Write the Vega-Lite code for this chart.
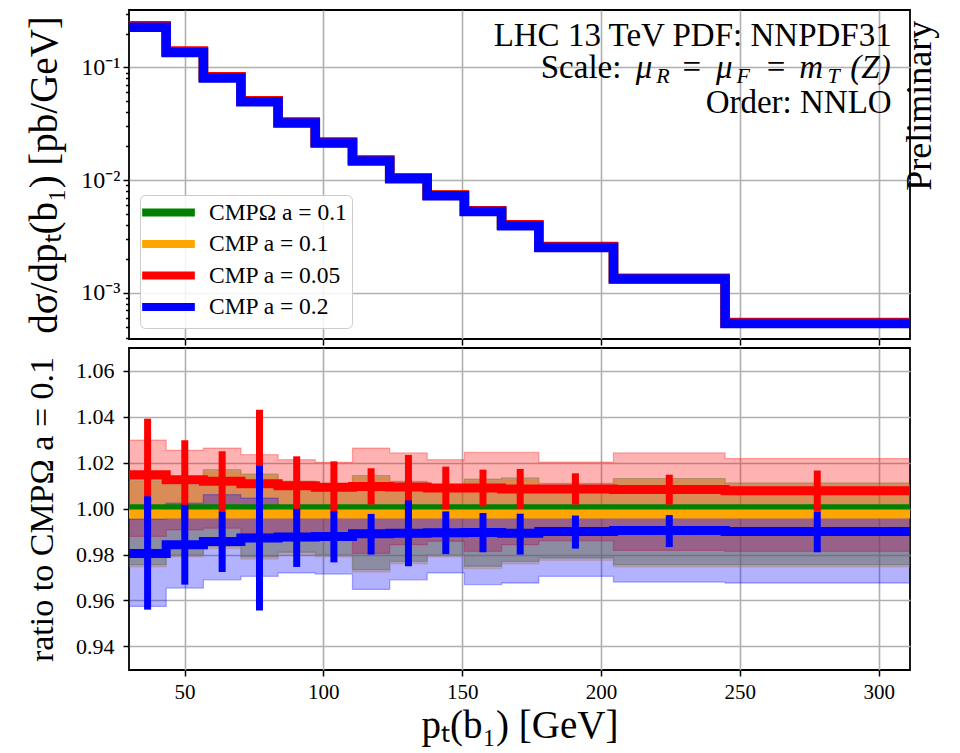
{
  "$schema": "https://vega.github.io/schema/vega-lite/v6.json",
  "background": "white",
  "padding": {"left": 24, "top": 9, "right": 5, "bottom": 5},
  "bounds": "flush",
  "spacing": 9,
  "resolve": {"scale": {"color": "independent"}, "legend": {"color": "independent"}},
  "datasets": {
    "main": [
      {"s": "CMPΩ a = 0.1", "x": 30, "y": 0.2315, "r": 1.0, "hi": 1.0128, "lo": 0.9756},
      {"s": "CMPΩ a = 0.1", "x": 43.4, "y": 0.1382, "r": 1.0, "hi": 1.011, "lo": 0.98},
      {"s": "CMPΩ a = 0.1", "x": 56.8, "y": 0.08167, "r": 1.0, "hi": 1.017, "lo": 0.9836},
      {"s": "CMPΩ a = 0.1", "x": 70.3, "y": 0.05014, "r": 1.0, "hi": 1.015, "lo": 0.979},
      {"s": "CMPΩ a = 0.1", "x": 83.7, "y": 0.0325, "r": 1.0, "hi": 1.012, "lo": 0.981},
      {"s": "CMPΩ a = 0.1", "x": 97.1, "y": 0.02156, "r": 1.0, "hi": 1.01, "lo": 0.98},
      {"s": "CMPΩ a = 0.1", "x": 110.5, "y": 0.01496, "r": 1.0, "hi": 1.0144, "lo": 0.9734},
      {"s": "CMPΩ a = 0.1", "x": 123.9, "y": 0.01041, "r": 1.0, "hi": 1.0119, "lo": 0.977},
      {"s": "CMPΩ a = 0.1", "x": 137.4, "y": 0.007317, "r": 1.0, "hi": 1.0085, "lo": 0.98},
      {"s": "CMPΩ a = 0.1", "x": 150.8, "y": 0.005305, "r": 1.0, "hi": 1.0129, "lo": 0.9749},
      {"s": "CMPΩ a = 0.1", "x": 164.2, "y": 0.003973, "r": 1.0, "hi": 1.0134, "lo": 0.977},
      {"s": "CMPΩ a = 0.1", "x": 177.6, "y": 0.002545, "r": 1.0, "hi": 1.011, "lo": 0.9785},
      {"s": "CMPΩ a = 0.1", "x": 204.5, "y": 0.001333, "r": 1.0, "hi": 1.0131, "lo": 0.9756},
      {"s": "CMPΩ a = 0.1", "x": 244.7, "y": 0.0005393, "r": 1.0, "hi": 1.0112, "lo": 0.9756},
      {"s": "CMPΩ a = 0.1", "x": 311.8, "y": 0.0005393, "r": 1.0, "hi": 1.0112, "lo": 0.9756},

      {"s": "CMP a = 0.1", "x": 30, "y": 0.231, "r": 0.9977, "hi": 1.0118, "lo": 0.9746},
      {"s": "CMP a = 0.1", "x": 43.4, "y": 0.1379, "r": 0.9977, "hi": 1.01, "lo": 0.979},
      {"s": "CMP a = 0.1", "x": 56.8, "y": 0.08148, "r": 0.9977, "hi": 1.016, "lo": 0.9826},
      {"s": "CMP a = 0.1", "x": 70.3, "y": 0.05002, "r": 0.9977, "hi": 1.014, "lo": 0.978},
      {"s": "CMP a = 0.1", "x": 83.7, "y": 0.03243, "r": 0.9977, "hi": 1.011, "lo": 0.98},
      {"s": "CMP a = 0.1", "x": 97.1, "y": 0.02151, "r": 0.9977, "hi": 1.009, "lo": 0.979},
      {"s": "CMP a = 0.1", "x": 110.5, "y": 0.01493, "r": 0.9977, "hi": 1.0134, "lo": 0.9724},
      {"s": "CMP a = 0.1", "x": 123.9, "y": 0.01039, "r": 0.9977, "hi": 1.0109, "lo": 0.976},
      {"s": "CMP a = 0.1", "x": 137.4, "y": 0.0073, "r": 0.9977, "hi": 1.0075, "lo": 0.979},
      {"s": "CMP a = 0.1", "x": 150.8, "y": 0.005293, "r": 0.9977, "hi": 1.0119, "lo": 0.9739},
      {"s": "CMP a = 0.1", "x": 164.2, "y": 0.003964, "r": 0.9977, "hi": 1.0124, "lo": 0.976},
      {"s": "CMP a = 0.1", "x": 177.6, "y": 0.002539, "r": 0.9977, "hi": 1.01, "lo": 0.9775},
      {"s": "CMP a = 0.1", "x": 204.5, "y": 0.00133, "r": 0.9977, "hi": 1.0121, "lo": 0.9746},
      {"s": "CMP a = 0.1", "x": 244.7, "y": 0.000538, "r": 0.9977, "hi": 1.0102, "lo": 0.9746},
      {"s": "CMP a = 0.1", "x": 311.8, "y": 0.000538, "r": 0.9977, "hi": 1.0102, "lo": 0.9746},

      {"s": "CMP a = 0.05", "x": 30, "y": 0.2349, "r": 1.0148, "hi": 1.0298, "lo": 0.9879},
      {"s": "CMP a = 0.05", "x": 43.4, "y": 0.1399, "r": 1.0126, "hi": 1.0254, "lo": 0.9908},
      {"s": "CMP a = 0.05", "x": 56.8, "y": 0.08264, "r": 1.0119, "hi": 1.0264, "lo": 0.9915},
      {"s": "CMP a = 0.05", "x": 70.3, "y": 0.05069, "r": 1.0109, "hi": 1.0235, "lo": 0.989},
      {"s": "CMP a = 0.05", "x": 83.7, "y": 0.03283, "r": 1.01, "hi": 1.0213, "lo": 0.986},
      {"s": "CMP a = 0.05", "x": 97.1, "y": 0.02176, "r": 1.0093, "hi": 1.0202, "lo": 0.9865},
      {"s": "CMP a = 0.05", "x": 110.5, "y": 0.01511, "r": 1.0097, "hi": 1.0264, "lo": 0.9805},
      {"s": "CMP a = 0.05", "x": 123.9, "y": 0.01051, "r": 1.0094, "hi": 1.0243, "lo": 0.9843},
      {"s": "CMP a = 0.05", "x": 137.4, "y": 0.007383, "r": 1.009, "hi": 1.0213, "lo": 0.9858},
      {"s": "CMP a = 0.05", "x": 150.8, "y": 0.005353, "r": 1.009, "hi": 1.0245, "lo": 0.9814},
      {"s": "CMP a = 0.05", "x": 164.2, "y": 0.004007, "r": 1.0086, "hi": 1.0245, "lo": 0.9843},
      {"s": "CMP a = 0.05", "x": 177.6, "y": 0.002567, "r": 1.0086, "hi": 1.0203, "lo": 0.986},
      {"s": "CMP a = 0.05", "x": 204.5, "y": 0.001344, "r": 1.0083, "hi": 1.0243, "lo": 0.9818},
      {"s": "CMP a = 0.05", "x": 244.7, "y": 0.0005435, "r": 1.0078, "hi": 1.0218, "lo": 0.9814},
      {"s": "CMP a = 0.05", "x": 311.8, "y": 0.0005435, "r": 1.0078, "hi": 1.0218, "lo": 0.9814},

      {"s": "CMP a = 0.2", "x": 30, "y": 0.227, "r": 0.9805, "hi": 0.9955, "lo": 0.9574},
      {"s": "CMP a = 0.2", "x": 43.4, "y": 0.136, "r": 0.9843, "hi": 1.0024, "lo": 0.9654},
      {"s": "CMP a = 0.2", "x": 56.8, "y": 0.0805, "r": 0.9857, "hi": 1.0061, "lo": 0.969},
      {"s": "CMP a = 0.2", "x": 70.3, "y": 0.0495, "r": 0.9872, "hi": 1.0046, "lo": 0.9705},
      {"s": "CMP a = 0.2", "x": 83.7, "y": 0.0321, "r": 0.9877, "hi": 0.9995, "lo": 0.972},
      {"s": "CMP a = 0.2", "x": 97.1, "y": 0.0213, "r": 0.9879, "hi": 0.999, "lo": 0.9715},
      {"s": "CMP a = 0.2", "x": 110.5, "y": 0.0148, "r": 0.9891, "hi": 0.9995, "lo": 0.9648},
      {"s": "CMP a = 0.2", "x": 123.9, "y": 0.0103, "r": 0.9893, "hi": 0.999, "lo": 0.969},
      {"s": "CMP a = 0.2", "x": 137.4, "y": 0.00724, "r": 0.9895, "hi": 0.999, "lo": 0.972},
      {"s": "CMP a = 0.2", "x": 150.8, "y": 0.00525, "r": 0.9896, "hi": 0.999, "lo": 0.9669},
      {"s": "CMP a = 0.2", "x": 164.2, "y": 0.00393, "r": 0.9893, "hi": 0.999, "lo": 0.9676},
      {"s": "CMP a = 0.2", "x": 177.6, "y": 0.00252, "r": 0.99, "hi": 0.9995, "lo": 0.9705},
      {"s": "CMP a = 0.2", "x": 204.5, "y": 0.00132, "r": 0.9905, "hi": 0.9995, "lo": 0.968},
      {"s": "CMP a = 0.2", "x": 244.7, "y": 0.000534, "r": 0.9901, "hi": 0.9995, "lo": 0.9676},
      {"s": "CMP a = 0.2", "x": 311.8, "y": 0.000534, "r": 0.9901, "hi": 0.9995, "lo": 0.9676}
    ],
    "err": [
      {"s": "CMP a = 0.05", "x": 36.7, "lo": 0.9904, "hi": 1.0392},
      {"s": "CMP a = 0.05", "x": 50.1, "lo": 0.9954, "hi": 1.0298},
      {"s": "CMP a = 0.05", "x": 63.55, "lo": 0.9988, "hi": 1.025},
      {"s": "CMP a = 0.05", "x": 77, "lo": 0.9787, "hi": 1.0431},
      {"s": "CMP a = 0.05", "x": 90.4, "lo": 0.9972, "hi": 1.0228},
      {"s": "CMP a = 0.05", "x": 103.8, "lo": 0.998, "hi": 1.0206},
      {"s": "CMP a = 0.05", "x": 117.2, "lo": 1.0018, "hi": 1.0176},
      {"s": "CMP a = 0.05", "x": 130.65, "lo": 0.9954, "hi": 1.0234},
      {"s": "CMP a = 0.05", "x": 144.1, "lo": 0.9997, "hi": 1.0183},
      {"s": "CMP a = 0.05", "x": 157.5, "lo": 1.001, "hi": 1.017},
      {"s": "CMP a = 0.05", "x": 170.9, "lo": 0.9999, "hi": 1.0173},
      {"s": "CMP a = 0.05", "x": 190.8, "lo": 1.0018, "hi": 1.0154},
      {"s": "CMP a = 0.05", "x": 224.6, "lo": 1.0018, "hi": 1.0148},
      {"s": "CMP a = 0.05", "x": 277.9, "lo": 0.999, "hi": 1.0166},
      {"s": "CMP a = 0.2", "x": 36.7, "lo": 0.956, "hi": 1.0054},
      {"s": "CMP a = 0.2", "x": 50.1, "lo": 0.9669, "hi": 1.0017},
      {"s": "CMP a = 0.2", "x": 63.55, "lo": 0.9724, "hi": 0.9988},
      {"s": "CMP a = 0.2", "x": 77, "lo": 0.9556, "hi": 1.0187},
      {"s": "CMP a = 0.2", "x": 90.4, "lo": 0.9746, "hi": 0.9999},
      {"s": "CMP a = 0.2", "x": 103.8, "lo": 0.9766, "hi": 0.9988},
      {"s": "CMP a = 0.2", "x": 117.2, "lo": 0.98, "hi": 0.9977},
      {"s": "CMP a = 0.2", "x": 130.65, "lo": 0.9749, "hi": 1.0036},
      {"s": "CMP a = 0.2", "x": 144.1, "lo": 0.9802, "hi": 0.9988},
      {"s": "CMP a = 0.2", "x": 157.5, "lo": 0.981, "hi": 0.9981},
      {"s": "CMP a = 0.2", "x": 170.9, "lo": 0.98, "hi": 0.9978},
      {"s": "CMP a = 0.2", "x": 190.8, "lo": 0.9826, "hi": 0.997},
      {"s": "CMP a = 0.2", "x": 224.6, "lo": 0.9833, "hi": 0.9972},
      {"s": "CMP a = 0.2", "x": 277.9, "lo": 0.981, "hi": 0.9988}
    ],
    "annR": [
      {"x": 304.7, "y": 0.156, "t": "LHC 13 TeV PDF: NNPDF31"},
      {"x": 304.7, "y": 0.0398, "t": "Order: NNLO"}
    ],
    "annU": [
      {"x": 178.3, "y": 0.081, "t": "Scale:"},
      {"x": 229.4, "y": 0.081, "t": "="},
      {"x": 259.7, "y": 0.081, "t": "="}
    ],
    "annI": [
      {"x": 212.5, "y": 0.081, "t": "μ"},
      {"x": 241.4, "y": 0.081, "t": "μ"},
      {"x": 271.4, "y": 0.081, "t": "m"},
      {"x": 289.8, "y": 0.081, "t": "(Z)"}
    ],
    "annS": [
      {"x": 219.9, "y": 0.0731, "t": "R"},
      {"x": 248.8, "y": 0.0731, "t": "F"},
      {"x": 281.6, "y": 0.0731, "t": "T"}
    ],
    "annP": [
      {"x": 318.9, "y": 0.0457, "t": "Preliminary"}
    ]
  },
  "vconcat": [
    {
      "width": 781,
      "height": 329,
      "encoding": {
        "x": {"field": "x", "type": "quantitative",
              "scale": {"domain": [30, 311.3], "nice": false, "zero": false},
              "axis": {"values": [50, 100, 150, 200, 250, 300], "labels": false, "title": null}},
        "y": {"field": "y", "type": "quantitative",
              "scale": {"type": "log", "domain": [0.000388, 0.3237], "nice": false},
              "axis": {
                "values": [0.0004, 0.0005, 0.0006, 0.0007, 0.0008, 0.0009, 0.001, 0.002, 0.003, 0.004, 0.005, 0.006, 0.007, 0.008, 0.009, 0.01, 0.02, 0.03, 0.04, 0.05, 0.06, 0.07, 0.08, 0.09, 0.1, 0.2, 0.3],
                "labelExpr": "abs(datum.value - 0.1) < 1e-6 ? '10⁻¹' : abs(datum.value - 0.01) < 1e-7 ? '10⁻²' : abs(datum.value - 0.001) < 1e-8 ? '10⁻³' : ''",
                "tickSize": {"condition": {"test": "abs(log(datum.value)/log(10) - round(log(datum.value)/log(10))) < 0.001", "value": 6}, "value": 3.5},
                "gridOpacity": {"condition": {"test": "abs(log(datum.value)/log(10) - round(log(datum.value)/log(10))) < 0.001", "value": 1}, "value": 0},
                "labelFontSize": 24,
                "labelPadding": 3,
                "title": "dσ/dpₜ(b₁) [pb/GeV]",
                "titleFontSize": 39,
                "titlePadding": 16
              }}
      },
      "layer": [
        {
          "data": {"name": "main"},
          "mark": {"type": "line", "interpolate": "step-after", "strokeWidth": 9.5, "clip": true},
          "encoding": {
            "color": {"field": "s", "type": "nominal",
                      "scale": {"domain": ["CMPΩ a = 0.1", "CMP a = 0.1", "CMP a = 0.05", "CMP a = 0.2"], "range": ["#008000", "#ffa500", "#ff0000", "#0000ff"]},
                      "legend": {"orient": "bottom-left", "offset": 11, "title": null,
                                 "symbolType": "M-3.1,0H3.1", "symbolSize": 289, "symbolStrokeWidth": 8,
                                 "symbolOffset": 11, "labelOffset": 28, "labelFontSize": 23.5, "labelFont": "Liberation Serif",
                                 "labelColor": "black", "labelLimit": 300, "rowPadding": -1.5, "padding": 5,
                                 "fillColor": "rgba(255,255,255,0.85)", "strokeColor": "#cccccc", "cornerRadius": 5}}
          }
        },
        {
          "data": {"name": "annR"},
          "mark": {"type": "text", "align": "right", "baseline": "alphabetic", "fontSize": 33, "font": "Liberation Serif"},
          "encoding": {"text": {"field": "t"}}
        },
        {
          "data": {"name": "annU"},
          "mark": {"type": "text", "align": "left", "baseline": "alphabetic", "fontSize": 33, "font": "Liberation Serif"},
          "encoding": {"text": {"field": "t"}}
        },
        {
          "data": {"name": "annI"},
          "mark": {"type": "text", "align": "left", "baseline": "alphabetic", "fontSize": 33, "fontStyle": "italic", "font": "Liberation Serif"},
          "encoding": {"text": {"field": "t"}}
        },
        {
          "data": {"name": "annS"},
          "mark": {"type": "text", "align": "left", "baseline": "alphabetic", "fontSize": 22, "fontStyle": "italic", "font": "Liberation Serif"},
          "encoding": {"text": {"field": "t"}}
        },
        {
          "data": {"name": "annP"},
          "mark": {"type": "text", "align": "center", "baseline": "alphabetic", "fontSize": 36, "angle": 270, "clip": false, "font": "Liberation Serif"},
          "encoding": {"text": {"field": "t"}}
        }
      ]
    },
    {
      "width": 781,
      "height": 322,
      "encoding": {
        "x": {"field": "x", "type": "quantitative",
              "scale": {"domain": [30, 311.3], "nice": false, "zero": false},
              "axis": {"values": [50, 100, 150, 200, 250, 300], "format": "d", "title": "pₜ(b₁) [GeV]", "labelFontSize": 21, "titleFontSize": 39, "titlePadding": 4, "labelPadding": 5}}
      },
      "layer": [
        {
          "data": {"name": "main"},
          "mark": {"type": "area", "interpolate": "step-after", "fillOpacity": 0.3, "strokeOpacity": 0.3, "strokeWidth": 1.3, "clip": true},
          "encoding": {
            "y": {"field": "hi", "type": "quantitative", "stack": null,
                  "scale": {"domain": [0.9297, 1.07], "nice": false, "zero": false},
                  "axis": {"values": [0.94, 0.96, 0.98, 1.0, 1.02, 1.04, 1.06], "format": ".2f", "labelPadding": 9, "title": "ratio to CMPΩ a = 0.1", "titleFontSize": 34, "titlePadding": 16}},
            "y2": {"field": "lo"},
            "color": {"field": "s", "type": "nominal",
                      "scale": {"domain": ["CMPΩ a = 0.1", "CMP a = 0.1", "CMP a = 0.05", "CMP a = 0.2"], "range": ["#008000", "#ffa500", "#ff0000", "#0000ff"]},
                      "legend": null},
            "stroke": {"field": "s", "type": "nominal",
                      "scale": {"domain": ["CMPΩ a = 0.1", "CMP a = 0.1", "CMP a = 0.05", "CMP a = 0.2"], "range": ["#008000", "#ffa500", "#ff0000", "#0000ff"]},
                      "legend": null}
          }
        },
        {
          "data": {"name": "main"},
          "mark": {"type": "line", "interpolate": "step-after", "strokeWidth": 9, "clip": true},
          "encoding": {
            "y": {"field": "r", "type": "quantitative", "scale": {"domain": [0.9297, 1.07], "nice": false, "zero": false},
                  "axis": {"values": [0.94, 0.96, 0.98, 1.0, 1.02, 1.04, 1.06], "format": ".2f", "labelPadding": 9, "title": "ratio to CMPΩ a = 0.1", "titleFontSize": 34, "titlePadding": 16}},
            "color": {"field": "s", "type": "nominal",
                      "scale": {"domain": ["CMPΩ a = 0.1", "CMP a = 0.1", "CMP a = 0.05", "CMP a = 0.2"], "range": ["#008000", "#ffa500", "#ff0000", "#0000ff"]},
                      "legend": null}
          }
        },
        {
          "data": {"name": "err"},
          "mark": {"type": "rule", "strokeWidth": 7, "strokeCap": "butt", "clip": true},
          "encoding": {
            "y": {"field": "lo", "type": "quantitative", "scale": {"domain": [0.9297, 1.07], "nice": false, "zero": false},
                  "axis": {"values": [0.94, 0.96, 0.98, 1.0, 1.02, 1.04, 1.06], "format": ".2f", "labelPadding": 9, "title": "ratio to CMPΩ a = 0.1", "titleFontSize": 34, "titlePadding": 16}},
            "y2": {"field": "hi"},
            "color": {"field": "s", "type": "nominal",
                      "scale": {"domain": ["CMPΩ a = 0.1", "CMP a = 0.1", "CMP a = 0.05", "CMP a = 0.2"], "range": ["#008000", "#ffa500", "#ff0000", "#0000ff"]},
                      "legend": null}
          }
        }
      ]
    }
  ],
  "config": {
    "font": "Liberation Serif",
    "view": {"stroke": "black", "strokeWidth": 1.8},
    "axis": {"domain": false, "grid": true, "gridColor": "#b0b0b0", "gridWidth": 1.6, "gridOpacity": 1,
             "tickColor": "black", "tickWidth": 1.5, "tickSize": 6,
             "labelFont": "Liberation Serif", "labelFontSize": 22, "labelColor": "black", "labelPadding": 5,
             "titleFont": "Liberation Serif", "titleFontWeight": "normal", "titleColor": "black"},
    "text": {"font": "Liberation Serif", "color": "black"}
  }
}
